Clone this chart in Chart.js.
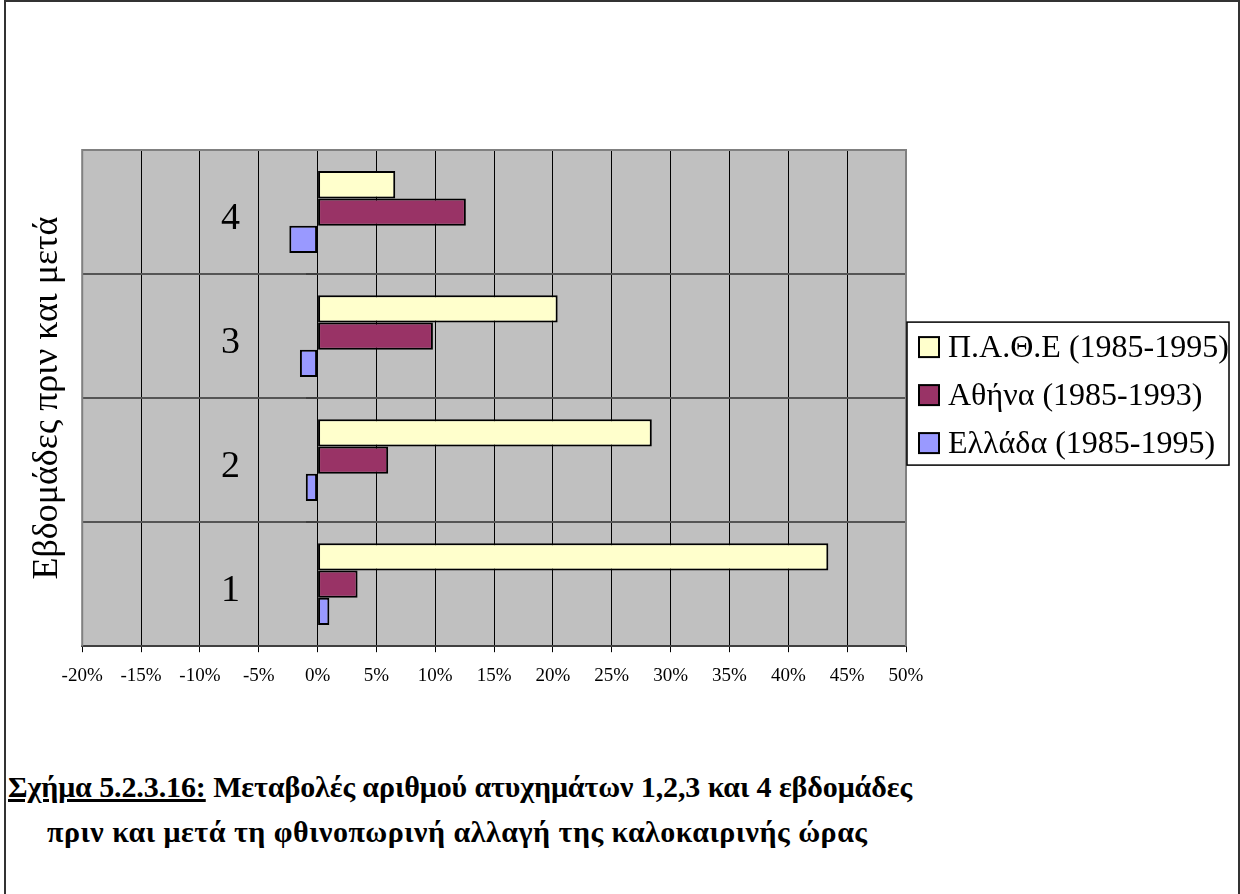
<!DOCTYPE html>
<html>
<head>
<meta charset="utf-8">
<script src="https://cdn.jsdelivr.net/npm/chart.js@4.4.1/dist/chart.umd.min.js"></script>
<style>
  body { margin: 0; background: #fff; }
  #page { position: relative; width: 1240px; height: 894px; overflow: hidden; }
  #frame { position: absolute; left: 4px; top: 0; width: 1232px; height: 900px; border: 2px solid #333; border-bottom: none; }
  #chart { position: absolute; left: 0; top: 0; }
  #caption { position: absolute; left: 8px; top: 764px; font-family: "Liberation Serif", "Times New Roman", serif; font-weight: bold; font-size: 30px; line-height: 45px; color: #000; white-space: nowrap; }
  #caption .l1 { letter-spacing: -0.1px; }
  #caption .num { text-decoration: underline; }
  #caption .l2 { padding-left: 39px; letter-spacing: 0.5px; }
</style>
</head>
<body>
<div id="page">
  <div id="frame"></div>
  <canvas id="chart" width="1240" height="700"></canvas>
  <div id="caption">
    <div class="l1"><span class="num">Σχήμα 5.2.3.16:</span> Μεταβολές αριθμού ατυχημάτων 1,2,3 και 4 εβδομάδες</div>
    <div class="l2">πριν και μετά τη φθινοπωρινή αλλαγή της καλοκαιρινής ώρας</div>
  </div>
</div>
<script>
// Chart data
const weeks = ['1', '2', '3', '4'];
const seriesNames = ['Π.Α.Θ.Ε (1985-1995)', 'Αθήνα (1985-1993)', 'Ελλάδα (1985-1995)'];
const seriesColors = ['#ffffcc', '#993366', '#9999ff'];
const pathe = [43.4, 28.4, 20.4, 6.6];
const athens = [3.4, 6.0, 9.8, 12.6];
const greece = [1.0, -1.0, -1.5, -2.4];
const xTicksMin = -20;
const xTicksMax = 50;
const xTicksStep = 5;
const yTitle = 'Εβδομάδες πριν και μετά';

const serif = '"Liberation Serif", "Times New Roman", serif';
Chart.defaults.font.family = serif;
Chart.defaults.color = '#000';

// Gray plot background, frame, and the boxed legend on the right
const plotFrame = {
    id: 'plotFrame',
    beforeDraw(chart) {
        const a = chart.chartArea;
        const ctx = chart.ctx;
        ctx.save();
        ctx.fillStyle = '#c0c0c0';
        ctx.fillRect(a.left, a.top, a.right - a.left, a.bottom - a.top);
        ctx.restore();
    },
    beforeDatasetsDraw(chart) {
        const a = chart.chartArea;
        const ctx = chart.ctx;
        ctx.save();
        ctx.strokeStyle = '#808080';
        ctx.lineWidth = 2;
        ctx.beginPath();
        ctx.moveTo(a.left, a.bottom);
        ctx.lineTo(a.left, a.top);
        ctx.lineTo(a.right, a.top);
        ctx.lineTo(a.right, a.bottom);
        ctx.stroke();
        ctx.restore();
    },
    afterDraw(chart) {
        const a = chart.chartArea;
        const ctx = chart.ctx;
        const left = a.right + 1;
        const top = (a.top + a.bottom) / 2 - 76;
        const rowH = 48;

        ctx.save();
        ctx.fillStyle = '#fff';
        ctx.fillRect(left, top, 322, 143);
        ctx.strokeStyle = '#000';
        ctx.lineWidth = 1.5;
        ctx.strokeRect(left, top, 322, 143);

        ctx.font = '32px ' + serif;
        ctx.textBaseline = 'middle';
        ctx.textAlign = 'left';
        chart.data.datasets.forEach((ds, i) => {
            const cy = top + 25 + i * rowH;
            ctx.fillStyle = ds.backgroundColor;
            ctx.fillRect(left + 12, cy - 10, 20, 20);
            ctx.lineWidth = 2;
            ctx.strokeStyle = '#000';
            ctx.strokeRect(left + 12, cy - 10, 20, 20);
            ctx.fillStyle = '#000';
            ctx.fillText(ds.label, left + 41, cy + 1);
        });
        ctx.restore();
    }
};

const ctx = document.getElementById('chart').getContext('2d');
const chart = new Chart(ctx, {
    type: 'bar',
    data: {
        labels: weeks,
        datasets: [
            { label: seriesNames[0], data: pathe, backgroundColor: seriesColors[0] },
            { label: seriesNames[1], data: athens, backgroundColor: seriesColors[1] },
            { label: seriesNames[2], data: greece, backgroundColor: seriesColors[2] }
        ]
    },
    options: {
        indexAxis: 'y',
        responsive: false,
        animation: false,
        datasets: {
            bar: {
                borderColor: '#000',
                borderWidth: 2,
                borderSkipped: false,
                barPercentage: 1,
                categoryPercentage: 0.66
            }
        },
        layout: {
            padding: { top: 150, left: 24, right: 334, bottom: 1 }
        },
        plugins: {
            legend: { display: false },
            tooltip: { enabled: false }
        },
        scales: {
            x: {
                type: 'linear',
                min: xTicksMin,
                max: xTicksMax,
                ticks: {
                    stepSize: xTicksStep,
                    padding: 12,
                    font: { size: 19 },
                    callback: v => v + '%'
                },
                grid: {
                    color: '#000',
                    lineWidth: 1,
                    tickLength: 6
                },
                border: { color: '#404040', width: 2 }
            },
            y: {
                type: 'category',
                position: 'left',
                reverse: true,
                offset: true,
                grid: { offset: true, color: '#555', lineWidth: 2, drawTicks: false },
                border: { display: false },
                ticks: { display: false },
                title: {
                    display: true,
                    text: yTitle,
                    font: { size: 36 },
                    padding: { top: 2, bottom: 13 }
                }
            },
            yMarks: {
                type: 'category',
                position: { x: 0 },
                reverse: true,
                offset: true,
                grid: { offset: true, drawOnChartArea: false, color: '#404040', lineWidth: 2, tickLength: 12 },
                border: { display: false },
                ticks: { display: false }
            },
            yLabels: {
                type: 'category',
                position: { x: -6.6 },
                reverse: true,
                offset: true,
                grid: { display: false, drawTicks: false },
                border: { display: false },
                ticks: { autoSkip: false, padding: 0, labelOffset: 7, font: { size: 38 } }
            }
        }
    },
    plugins: [plotFrame]
});
</script>
</body>
</html>
